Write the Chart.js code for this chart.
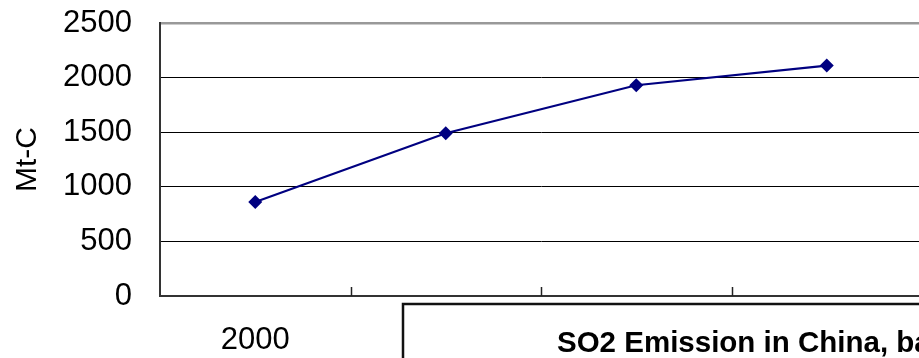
<!DOCTYPE html>
<html>
<head>
<meta charset="utf-8">
<script src="https://cdn.jsdelivr.net/npm/chart.js@4/dist/chart.umd.min.js"></script>
<style>
  html, body { margin: 0; padding: 0; background: #fff; overflow: hidden; }
  #wrap { position: relative; width: 919px; height: 358px; overflow: hidden; }
</style>
</head>
<body>
<div id="wrap"><canvas id="c" width="922" height="358"></canvas></div>
<script>
// Carbon emission path (Mt-C) by year
const years = ['2000', '2010', '2020', '2030'];
const emissions = [860, 1490, 1930, 2110];
const yTicks = [0, 500, 1000, 1500, 2000, 2500];
const captionText = 'SO2 Emission in China, ba';

const FONT = "'Liberation Sans', Arial, sans-serif";
const VIEW_W = 919;

// Small inward tick marks at the category boundaries on the x axis
const categoryTicks = {
  id: 'categoryTicks',
  afterDatasetsDraw(chart) {
    const { ctx, chartArea, scales: { x } } = chart;
    ctx.save();
    ctx.strokeStyle = '#222';
    ctx.lineWidth = 1.5;
    for (let i = 1; i < years.length; i++) {
      const px = Math.round((x.getPixelForValue(i - 1) + x.getPixelForValue(i)) / 2) + 0.5;
      ctx.beginPath();
      ctx.moveTo(px, chartArea.bottom);
      ctx.lineTo(px, chartArea.bottom - 9);
      ctx.stroke();
    }
    ctx.restore();
  }
};

// Caption text box laid over the lower right of the figure
const captionBox = {
  id: 'captionBox',
  afterDraw(chart) {
    const { ctx, width, height } = chart;
    const left = 403, top = 304;
    ctx.save();
    ctx.fillStyle = '#fff';
    ctx.fillRect(left, top, width - left + 10, height - top + 10);
    ctx.strokeStyle = '#111';
    ctx.lineWidth = 2.5;
    ctx.beginPath();
    ctx.moveTo(left, height + 5);
    ctx.lineTo(left, top);
    ctx.lineTo(width + 5, top);
    ctx.stroke();
    // the caption runs on past the visible edge
    ctx.beginPath();
    ctx.rect(left, top, VIEW_W - left, height - top);
    ctx.clip();
    ctx.fillStyle = '#000';
    ctx.font = 'bold 29.5px ' + FONT;
    ctx.textBaseline = 'alphabetic';
    ctx.textAlign = 'left';
    ctx.fillText(captionText, 557, 352);
    ctx.restore();
  }
};

new Chart(document.getElementById('c'), {
  type: 'line',
  data: {
    labels: years,
    datasets: [{
      data: emissions,
      borderColor: '#000080',
      backgroundColor: '#000080',
      borderWidth: 2.2,
      pointStyle: 'rectRot',
      pointRadius: 7,
      pointBorderWidth: 0,
      tension: 0,
      fill: false
    }]
  },
  options: {
    responsive: false,
    animation: false,
    layout: { autoPadding: false, padding: { top: 23, right: 0, left: 0, bottom: 0 } },
    plugins: { legend: { display: false }, tooltip: { enabled: false } },
    scales: {
      x: {
        offset: true,
        grid: { display: true, drawOnChartArea: false, drawTicks: false, offset: true },
        border: { display: true, color: '#333', width: 2 },
        ticks: {
          font: { family: FONT, size: 31 },
          color: '#000',
          padding: 26,
          maxRotation: 0,
          autoSkip: false,
          // categories after the first sit underneath the caption box
          callback: (v, i) => (i === 0 ? years[i] : '')
        },
        afterFit(scale) {
          scale.height = 62;
          scale.paddingLeft = 0;
          scale.paddingRight = 0;
        }
      },
      y: {
        min: yTicks[0],
        max: yTicks[yTicks.length - 1],
        afterBuildTicks(scale) { scale.ticks = yTicks.map(v => ({ value: v })); },
        grid: {
          drawTicks: false,
          color: c => (c.tick && c.tick.value === 2500 ? '#999' : '#000'),
          lineWidth: c => (c.tick && c.tick.value === 2500 ? 2.5 : 1)
        },
        border: { display: true, color: '#333', width: 2 },
        ticks: {
          font: { family: FONT, size: 31 },
          color: '#000',
          padding: 28,
          callback: v => String(v)
        },
        title: {
          display: true,
          text: 'Mt-C',
          font: { family: FONT, size: 30 },
          color: '#000',
          padding: { top: 10, bottom: 0 }
        },
        afterFit(scale) {
          scale.width = 160;
          scale.paddingTop = 0;
          scale.paddingBottom = 0;
        }
      }
    }
  },
  plugins: [categoryTicks, captionBox]
});
</script>
</body>
</html>
